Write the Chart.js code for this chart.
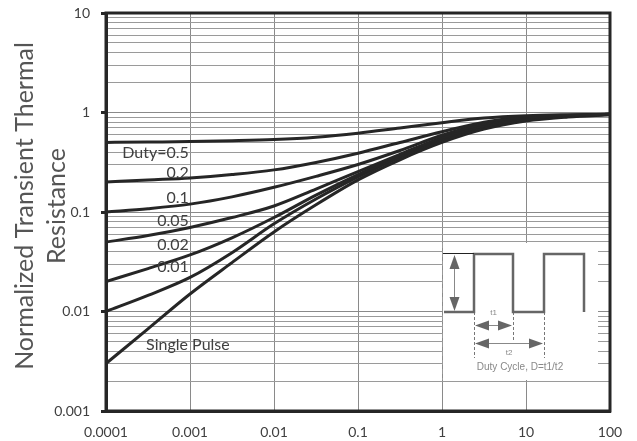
<!DOCTYPE html>
<html>
<head>
<meta charset="utf-8">
<script src="https://cdn.jsdelivr.net/npm/chart.js@4/dist/chart.umd.min.js"></script>
<style>
  html, body { margin: 0; padding: 0; background: #fff; }
  #wrap { width: 637px; height: 441px; }
</style>
</head>
<body>
<div id="wrap"><canvas id="chart" width="637" height="441"></canvas></div>
<script>
// Pulse duration t (s) sample points, half-decade steps
var pulseTimes = [0.0001, 0.000316, 0.001, 0.00316, 0.01, 0.0316, 0.1, 0.316, 1, 3.16, 10, 31.6, 100];

// Normalized transient thermal resistance, one list per duty cycle
var duty05 = [0.50, 0.505, 0.51, 0.52, 0.535, 0.565, 0.62, 0.70, 0.79, 0.88, 0.93, 0.95, 0.96];
var duty02 = [0.20, 0.21, 0.22, 0.238, 0.265, 0.315, 0.39, 0.50, 0.64, 0.80, 0.90, 0.94, 0.96];
var duty01 = [0.10, 0.108, 0.12, 0.142, 0.177, 0.228, 0.30, 0.415, 0.59, 0.77, 0.88, 0.93, 0.96];
var duty005 = [0.05, 0.058, 0.07, 0.088, 0.115, 0.17, 0.255, 0.38, 0.56, 0.74, 0.86, 0.92, 0.96];
var duty002 = [0.02, 0.027, 0.037, 0.055, 0.088, 0.148, 0.238, 0.365, 0.54, 0.73, 0.85, 0.92, 0.96];
var duty001 = [0.01, 0.0145, 0.022, 0.039, 0.076, 0.135, 0.225, 0.355, 0.52, 0.71, 0.84, 0.91, 0.96];
var singlePulse = [0.003, 0.0067, 0.015, 0.031, 0.063, 0.118, 0.21, 0.335, 0.50, 0.68, 0.82, 0.90, 0.95];

var seriesNames = ['Duty=0.5', '0.2', '0.1', '0.05', '0.02', '0.01', 'Single Pulse'];
var seriesValues = [duty05, duty02, duty01, duty005, duty002, duty001, singlePulse];

// Tick labels
var xTickValues = [0.0001, 0.001, 0.01, 0.1, 1, 10, 100];
var xTickLabels = ['0.0001', '0.001', '0.01', '0.1', '1', '10', '100'];
var yTickValues = [0.001, 0.01, 0.1, 1, 10];
var yTickLabels = ['0.001', '0.01', '0.1', '1', '10'];

var axisTitle = ['Normalized Transient Thermal', 'Resistance'];

(function() {
    'use strict';

    var FONT = 'Lato, "Open Sans", sans-serif';
    var LINE = '#262626';

    function toPoints(vals) {
        return pulseTimes.map(function(t, i) { return { x: t, y: vals[i] }; });
    }

    // minor gridlines 1..9 per decade on y
    function yTicksAll() {
        var out = [];
        for (var e = -3; e <= 1; e++) {
            for (var m = 1; m <= 9; m++) {
                var v = m * Math.pow(10, e);
                if (v > 10.0001) break;
                out.push({ value: parseFloat(v.toPrecision(3)) });
            }
        }
        return out;
    }

    function isDecade(v) {
        var l = Math.log10(v);
        return Math.abs(l - Math.round(l)) < 1e-6;
    }

    // label anchors: [x value, y value, align]
    var labelAnchors = [
        [0.00097, 0.39, 'right'],
        [0.00097, 0.247, 'right'],
        [0.00097, 0.138, 'right'],
        [0.00097, 0.081, 'right'],
        [0.00097, 0.0466, 'right'],
        [0.00097, 0.028, 'right'],
        [0.0003, 0.0046, 'left']
    ];

    var decorPlugin = {
        id: 'decor',
        beforeDatasetsDraw: function(chart) {
            var ctx = chart.ctx;
            var xs = chart.scales.x;
            var a = chart.chartArea;

            // inset box (white) with pulse diagram
            var ix0 = xs.getPixelForValue(1) + 1, ix1 = a.right - 12;
            var iy0 = 243, iy1 = 380;
            ctx.save();
            ctx.fillStyle = '#fff';
            ctx.fillRect(ix0, iy0, ix1 - ix0, iy1 - iy0);

            // dashed gridline remnant at x=1
            ctx.strokeStyle = '#999';
            ctx.lineWidth = 1;
            ctx.setLineDash([5, 4]);
            ctx.beginPath();
            ctx.moveTo(ix0 - 0.5, iy0);
            ctx.lineTo(ix0 - 0.5, iy1);
            ctx.stroke();

            var lo = 312, hi = 254;
            var p1 = 474, p2 = 513, p3 = 544, p4 = 584;

            // dashed guides
            ctx.strokeStyle = '#777';
            ctx.setLineDash([3, 2]);
            ctx.beginPath();
            ctx.moveTo(p1 + 0.5, lo); ctx.lineTo(p1 + 0.5, 358);
            ctx.moveTo(p2 + 0.5, lo); ctx.lineTo(p2 + 0.5, 340);
            ctx.moveTo(p3 + 0.5, lo); ctx.lineTo(p3 + 0.5, 358);
            ctx.stroke();
            ctx.setLineDash([]);

            // square wave
            ctx.strokeStyle = '#666';
            ctx.lineWidth = 2.5;
            ctx.beginPath();
            ctx.moveTo(ix0 + 1, lo);
            ctx.lineTo(p1, lo); ctx.lineTo(p1, hi); ctx.lineTo(p2, hi);
            ctx.lineTo(p2, lo); ctx.lineTo(p3, lo); ctx.lineTo(p3, hi);
            ctx.lineTo(p4, hi); ctx.lineTo(p4, lo);
            ctx.stroke();

            // amplitude reference line
            ctx.strokeStyle = '#222';
            ctx.lineWidth = 1;
            ctx.beginPath();
            ctx.moveTo(ix0, hi - 0.5); ctx.lineTo(p1, hi - 0.5);
            ctx.stroke();

            function arrowHead(x, y, dir, horiz) {
                ctx.beginPath();
                if (horiz) {
                    ctx.moveTo(x, y);
                    ctx.lineTo(x + dir * 14, y - 5);
                    ctx.lineTo(x + dir * 14, y + 5);
                } else {
                    ctx.moveTo(x, y);
                    ctx.lineTo(x - 5, y + dir * 14);
                    ctx.lineTo(x + 5, y + dir * 14);
                }
                ctx.closePath();
                ctx.fill();
            }

            ctx.fillStyle = '#666';
            ctx.strokeStyle = '#888';
            ctx.lineWidth = 1;
            // vertical double arrow
            var ax = 454.5;
            ctx.beginPath(); ctx.moveTo(ax, hi + 4); ctx.lineTo(ax, lo - 4); ctx.stroke();
            arrowHead(ax, hi + 1, 1, false);
            arrowHead(ax, lo - 1, -1, false);
            // t1 arrow
            ctx.beginPath(); ctx.moveTo(p1 + 4, 325.5); ctx.lineTo(p2 - 4, 325.5); ctx.stroke();
            arrowHead(p1 + 1, 325.5, 1, true);
            arrowHead(p2 - 1, 325.5, -1, true);
            // t2 arrow
            ctx.beginPath(); ctx.moveTo(p1 + 4, 343.5); ctx.lineTo(p3 - 4, 343.5); ctx.stroke();
            arrowHead(p1 + 1, 343.5, 1, true);
            arrowHead(p3 - 1, 343.5, -1, true);

            ctx.fillStyle = '#888';
            ctx.textAlign = 'center';
            ctx.textBaseline = 'middle';
            ctx.font = '8px "Liberation Sans", Arial, sans-serif';
            ctx.fillText('t1', (p1 + p2) / 2, 313);
            ctx.fillText('t2', (p1 + p3) / 2, 353);
            ctx.font = '10px "Liberation Sans", Arial, sans-serif';
            ctx.fillText('Duty Cycle, D=t1/t2', 520, 367);
            ctx.restore();
        },
        afterDraw: function(chart) {
            var ctx = chart.ctx;
            var a = chart.chartArea;
            var xs = chart.scales.x, ys = chart.scales.y;
            ctx.save();

            // frame: top and right borders
            ctx.strokeStyle = LINE;
            ctx.lineWidth = 3;
            ctx.strokeRect(a.left, a.top, a.right - a.left, a.bottom - a.top);

            // curve labels
            ctx.fillStyle = '#404040';
            ctx.font = '16px ' + FONT;
            ctx.textBaseline = 'middle';
            labelAnchors.forEach(function(l, i) {
                ctx.textAlign = l[2];
                ctx.fillText(seriesNames[i], xs.getPixelForValue(l[0]), ys.getPixelForValue(l[1]));
            });

            // y-axis title, rotated
            ctx.fillStyle = '#555';
            ctx.font = '25px ' + FONT;
            ctx.textAlign = 'center';
            ctx.textBaseline = 'middle';
            ctx.translate(25, 206);
            ctx.rotate(-Math.PI / 2);
            ctx.fillText(axisTitle[0], 0, 0);
            ctx.fillText(axisTitle[1], 0, 32);
            ctx.restore();
        }
    };

    var ctx = document.getElementById('chart').getContext('2d');
    new Chart(ctx, {
        type: 'line',
        data: {
            datasets: seriesValues.map(function(vals, i) {
                return {
                    label: seriesNames[i],
                    data: toPoints(vals),
                    borderColor: LINE,
                    borderWidth: 3,
                    pointRadius: 0,
                    fill: false,
                    cubicInterpolationMode: 'monotone'
                };
            })
        },
        options: {
            responsive: false,
            animation: false,
            devicePixelRatio: 1,
            layout: { padding: { left: 0, right: 27, top: 13, bottom: 0 } },
            plugins: {
                legend: { display: false },
                tooltip: { enabled: false }
            },
            scales: {
                x: {
                    type: 'logarithmic',
                    min: 0.0001,
                    max: 100,
                    afterBuildTicks: function(scale) {
                        scale.ticks = xTickValues.map(function(v) { return { value: v }; });
                    },
                    afterFit: function(scale) {
                        scale.height = 30;
                        scale.paddingLeft = 0;
                        scale.paddingRight = 0;
                    },
                    ticks: {
                        autoSkip: false,
                        maxRotation: 0,
                        padding: 13,
                        color: '#404040',
                        font: { family: FONT, size: 14 },
                        callback: function(v) {
                            var i = xTickValues.indexOf(v);
                            return i >= 0 ? xTickLabels[i] : '';
                        }
                    },
                    grid: { color: '#8a8a8a', lineWidth: 1, drawTicks: false },
                    border: { color: LINE, width: 3 }
                },
                y: {
                    type: 'logarithmic',
                    min: 0.001,
                    max: 10,
                    afterBuildTicks: function(scale) { scale.ticks = yTicksAll(); },
                    afterFit: function(scale) {
                        scale.width = 106;
                        scale.paddingTop = 0;
                        scale.paddingBottom = 0;
                    },
                    ticks: {
                        autoSkip: false,
                        padding: 11,
                        color: '#404040',
                        font: { family: FONT, size: 14 },
                        callback: function(v) {
                            if (!isDecade(v)) return '';
                            var i = yTickValues.findIndex(function(t) { return Math.abs(t - v) / t < 1e-6; });
                            return i >= 0 ? yTickLabels[i] : '';
                        }
                    },
                    grid: {
                        lineWidth: 1,
                        tickLength: 5,
                        color: function(c) { return isDecade(c.tick.value) ? '#8a8a8a' : '#9a9a9a'; },
                        tickColor: function(c) { return isDecade(c.tick.value) ? LINE : 'rgba(0,0,0,0)'; },
                        tickWidth: 3
                    },
                    border: { color: LINE, width: 3 }
                }
            }
        },
        plugins: [decorPlugin]
    });
})();
</script>
</body>
</html>
